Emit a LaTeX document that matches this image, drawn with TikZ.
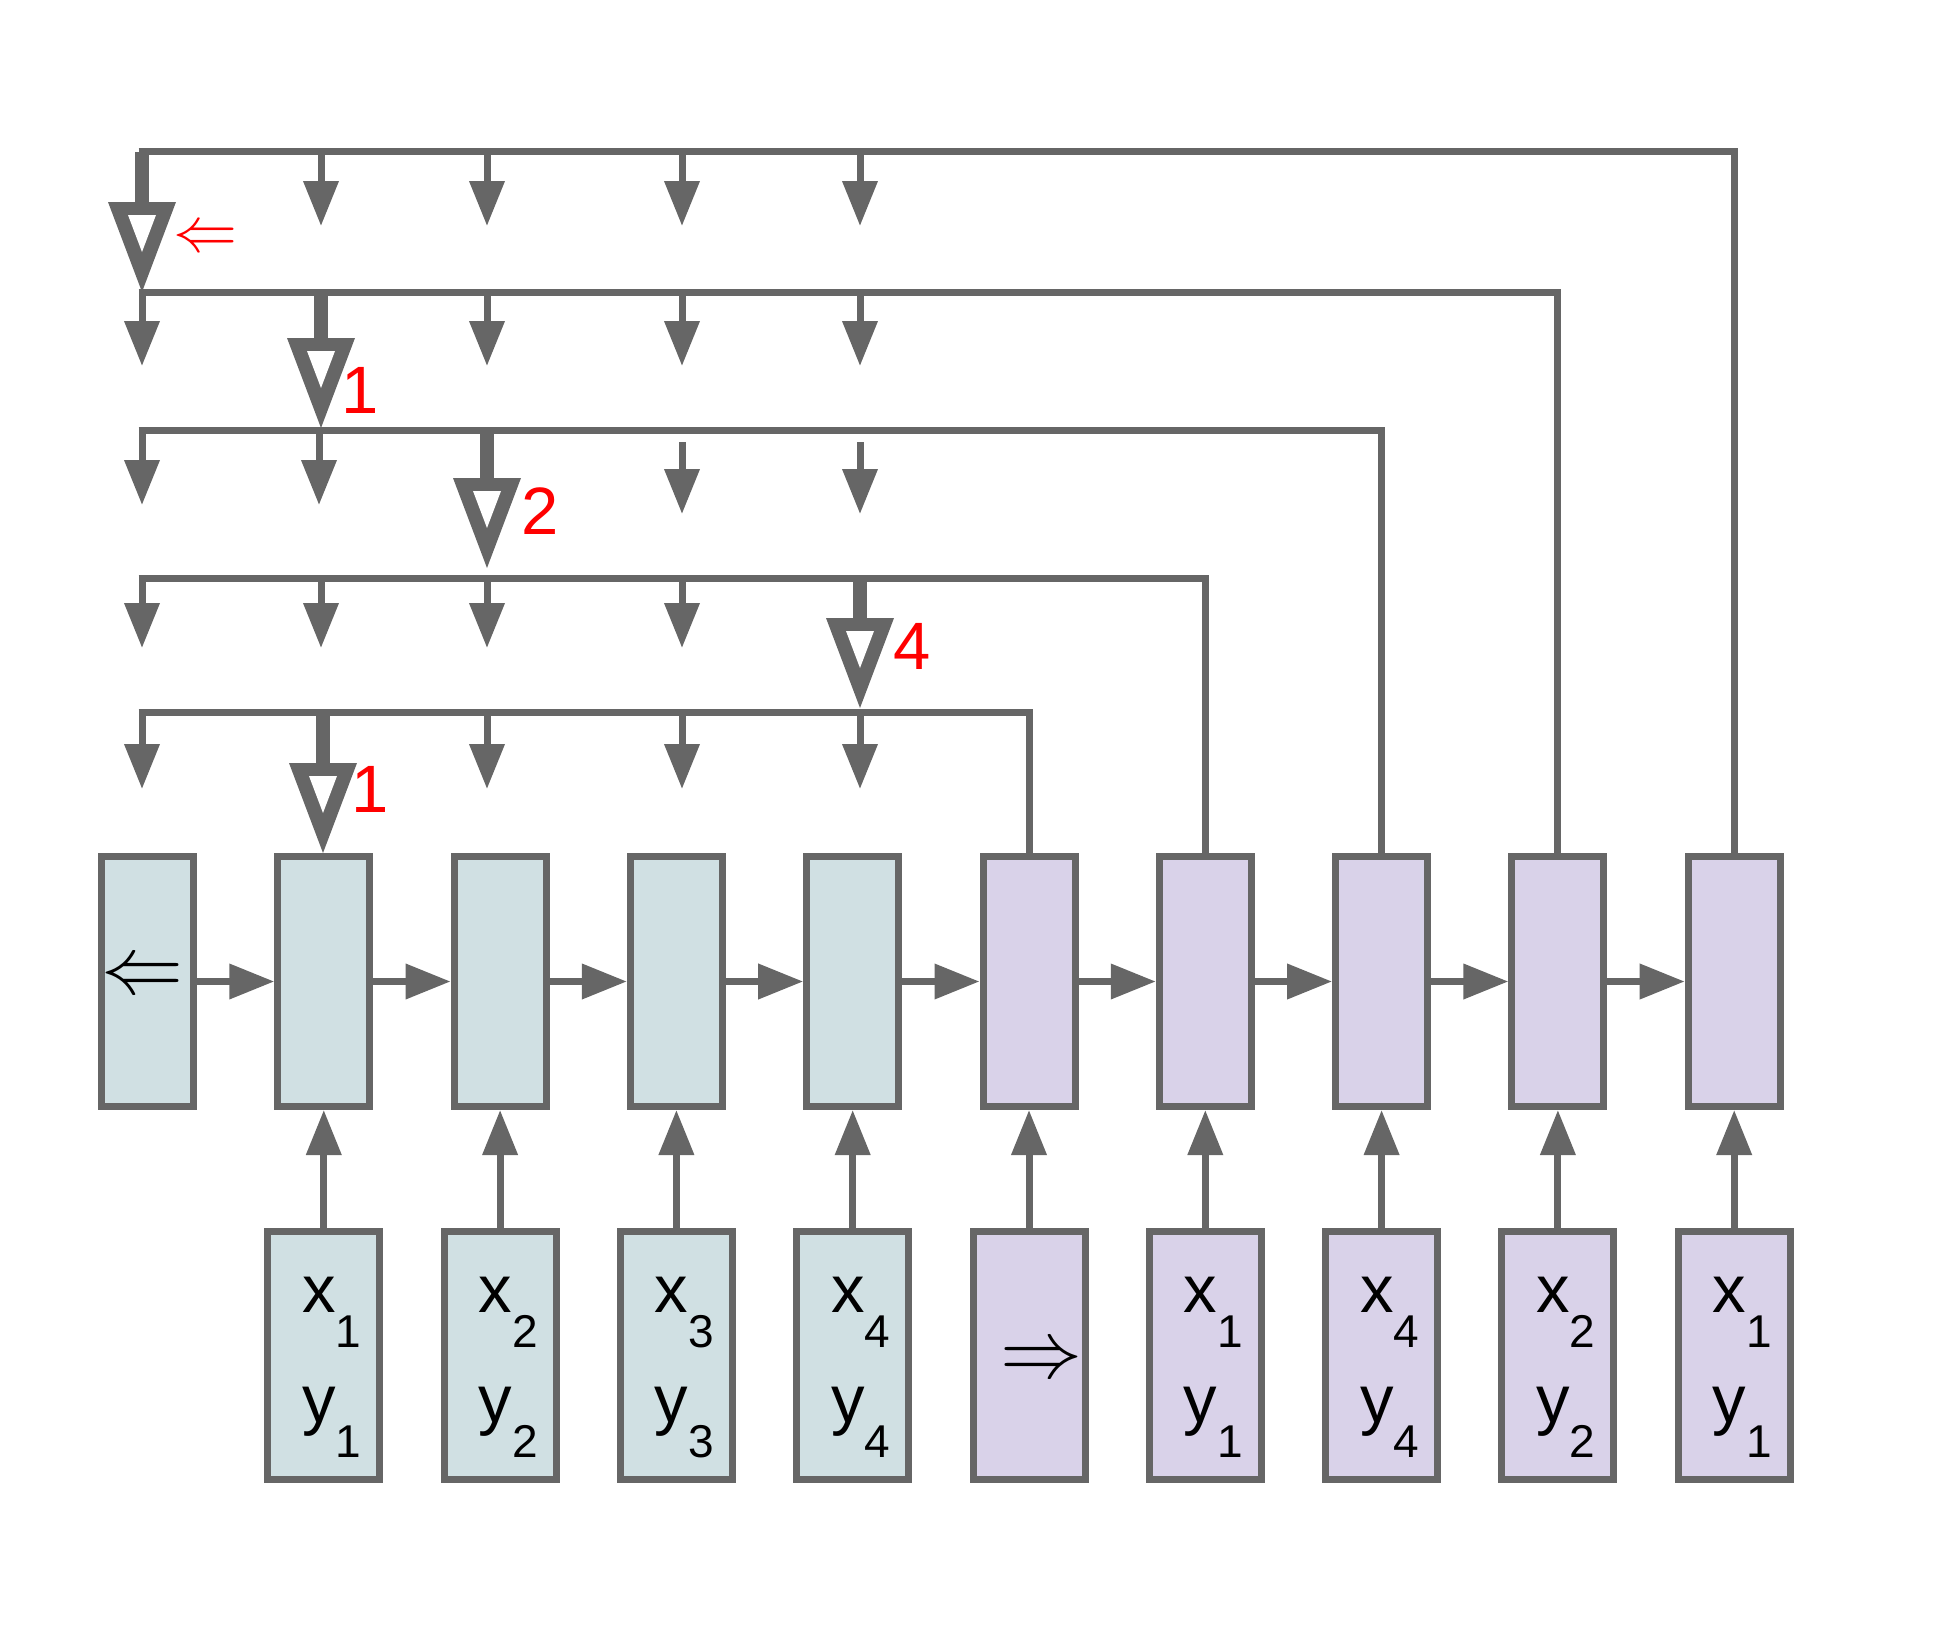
\documentclass[tikz,border=0pt]{standalone}
\usepackage{fontspec}
\setmainfont{Liberation Sans}
\usetikzlibrary{arrows.meta}
\definecolor{ln}{HTML}{666666}
\definecolor{cy}{HTML}{D0E0E3}
\definecolor{pu}{HTML}{D9D2E9}
\definecolor{rd}{HTML}{FF0000}
\newcommand\subs[1]{\raisebox{-17.5pt}{\fontsize{23}{23}\selectfont #1}}
\newcommand\sarr[4]{\coordinate (#1a) at (#2,#3); \coordinate (#1b) at (#2,#4); \draw[arr] (#1a) -- (#1b);}
\newcommand\barr[4]{%
  \coordinate (#1a) at (#2,#3); \coordinate (#1b) at (#2,#4-88);
  \draw[ln, line width=7pt] (#1a) -- (#1b);
  \fill[ln] (#2-34,#4-90) -- (#2+34,#4-90) -- (#2,#4) -- cycle;
  \fill[white] (#2-14,#4-77) -- (#2+14,#4-77) -- (#2,#4-40) -- cycle;}
\begin{document}
\begin{tikzpicture}[x=0.5pt,y=-0.5pt,
  ubox/.style={draw=ln, line width=3.5pt, minimum width=46pt, minimum height=125pt, inner sep=0pt},
  lbox/.style={draw=ln, line width=3.5pt, minimum width=56pt, minimum height=124pt, inner sep=0pt},
  conn/.style={draw=ln, line width=3.5pt},
  arr/.style={conn, -{Triangle[length=22.5pt,width=17pt]}},
  txt/.style={inner sep=0pt, font=\fontsize{33.5}{40}\selectfont},
  lab/.style={inner sep=0pt, text=rd, font=\fontsize{33.5}{40}\selectfont},
]
\useasboundingbox (0,0) rectangle (1944,1632);
% upper row
\foreach \i in {0,...,4} \node[ubox, fill=cy] (u\i) at ({147.5+176.3*\i},981.5) {};
\foreach \i in {5,...,9} \node[ubox, fill=pu] (u\i) at ({147.5+176.3*\i},981.5) {};
% lower row
\foreach \i in {1,...,4} \node[lbox, fill=cy] (l\i) at ({147.5+176.3*\i},1355.5) {};
\foreach \i in {5,...,9} \node[lbox, fill=pu] (l\i) at ({147.5+176.3*\i},1355.5) {};
% texts
\node[inner sep=0pt, scale=4.1] (arrL) at (142.5,978.5) {$\Leftarrow$};
\node[inner sep=0pt, scale=4.1] (arrR) at (1041,1362) {$\Rightarrow$};
\foreach \i/\s in {1/1,2/2,3/3,4/4,6/1,7/4,8/2,9/1}{
  \node[txt, anchor=base west] (x\i) at ({147.5+176.3*\i-22},1312) {x\subs{\s}};
  \node[txt, anchor=base west] (y\i) at ({147.5+176.3*\i-22},1422) {y\subs{\s}};
}
% connectors between boxes
\foreach \i [count=\j from 1] in {0,...,8} \draw[arr] (u\i.east) -- (u\j.west);
\foreach \i in {1,...,9} \draw[arr] (l\i.north) -- (u\i.south);
% attention lines
\coordinate (L1) at (138.5,152);
\coordinate (L2) at (138.5,292);
\coordinate (L3) at (138.5,430);
\coordinate (L4) at (138.5,578);
\coordinate (L5) at (138.5,712);
\draw[conn] (L1) -| (u9.north);
\draw[conn] (L2) -| (u8.north);
\draw[conn] (L3) -| (u7.north);
\draw[conn] (L4) -| (u6.north);
\draw[conn] (L5) -| (u5.north);
% small arrows
\sarr{a11}{321}{152}{226} \sarr{a12}{487}{152}{226} \sarr{a13}{682}{152}{226} \sarr{a14}{860}{152}{226}
\sarr{a20}{142}{292}{366} \sarr{a22}{487}{292}{366} \sarr{a23}{682}{292}{366} \sarr{a24}{860}{292}{366}
\sarr{a30}{142}{430}{505} \sarr{a31}{319}{430}{505} \sarr{a33}{682}{442}{514} \sarr{a34}{860}{442}{514}
\sarr{a40}{142}{578}{648} \sarr{a41}{321}{578}{648} \sarr{a42}{487}{578}{648} \sarr{a43}{682}{578}{648}
\sarr{a50}{142}{712}{789} \sarr{a52}{487}{712}{789} \sarr{a53}{682}{712}{789} \sarr{a54}{860}{712}{789}
% big hollow arrows
\barr{b0}{142}{152}{292}
\barr{b1}{321}{292}{428}
\barr{b2}{487}{430}{568}
\barr{b3}{860}{578}{708}
\barr{b4}{323}{712}{853}
% red labels
\node[inner sep=0pt, text=rd, scale=3.2] (t0) at (205,240) {$\Leftarrow$};
\node[lab] (t1) at (360,390) {1};
\node[lab] (t2) at (540,511) {2};
\node[lab] (t3) at (912,646) {4};
\node[lab] (t4) at (370,789) {1};
\end{tikzpicture}
\end{document}
